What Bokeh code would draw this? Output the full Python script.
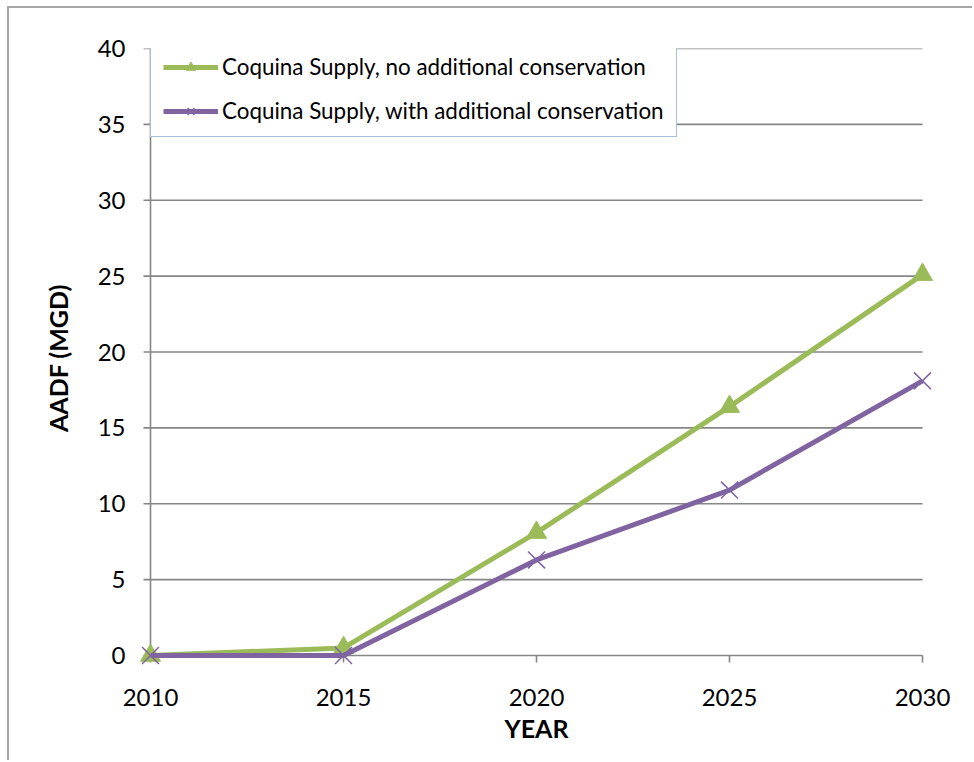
import math
from bokeh.plotting import figure
from bokeh.models import Range1d, FixedTicker
from bokeh.embed import file_html
from bokeh.resources import INLINE

years = [2010, 2015, 2020, 2025, 2030]
no_conservation = [0.0, 0.5, 8.1, 16.4, 25.1]
with_conservation = [0.0, 0.0, 6.3, 10.9, 18.1]
label_no = "Coquina Supply, no additional conservation"
label_with = "Coquina Supply, with additional conservation"
y_ticks = [0, 5, 10, 15, 20, 25, 30, 35, 40]

FONT = "Lato"
GREEN = "#9BBB59"
PURPLE = "#8064A2"
GRID = "#868686"
LW = 1.6

x0, x1 = years[0], years[-1]
y0, y1 = y_ticks[0], y_ticks[-1]
# small extra room so the end markers are not cut by the frame
dx = (x1 - x0) * 12 / 772
dy = (y1 - y0) * 12 / 607

p = figure(width=965, height=754, output_backend="svg", toolbar_location=None,
           x_range=Range1d(x0 - dx, x1 + dx), y_range=Range1d(y0 - dy, y1),
           min_border_left=129, min_border_right=40, min_border_top=40, min_border_bottom=95)
p.margin = (6, 0, 0, 7)
p.styles = {"border-left": "2px solid #A6A6A6", "border-top": "2px solid #A6A6A6"}
p.outline_line_color = None
p.background_fill_color = "white"
p.border_fill_color = "white"
p.xgrid.visible = False
p.ygrid.visible = False

n = len(y_ticks)
# horizontal gridlines (the one at 0 is the x axis line)
p.segment(x0=[x0] * n, y0=y_ticks, x1=[x1] * n, y1=y_ticks, line_color=GRID, line_width=LW)
# y axis line
p.segment(x0=[x0], y0=[y0], x1=[x0], y1=[y1], line_color=GRID, line_width=LW)
# tick marks (outside, 7 px)
p.ray(x=[x0] * n, y=y_ticks, length=7, length_units="screen", angle=math.pi,
      line_color=GRID, line_width=LW)
p.ray(x=years, y=[y0] * len(years), length=7, length_units="screen", angle=-math.pi / 2,
      line_color=GRID, line_width=LW)

for ax in (p.xaxis[0], p.yaxis[0]):
    ax.axis_line_color = None
    ax.major_tick_line_color = None
    ax.major_tick_out = 0
    ax.major_tick_in = 0
    ax.minor_tick_line_color = None
    ax.major_label_text_font = FONT
    ax.major_label_text_font_size = "24px"
    ax.major_label_text_color = "black"
    ax.axis_label_text_font = FONT
    ax.axis_label_text_font_style = "bold"
    ax.axis_label_text_font_size = "25px"
    ax.axis_label_text_color = "black"

p.xaxis.ticker = FixedTicker(ticks=years)
p.yaxis.ticker = FixedTicker(ticks=y_ticks)
p.xaxis.axis_label = "YEAR"
p.yaxis.axis_label = "AADF (MGD)"
p.xaxis.major_label_standoff = 21
p.yaxis.major_label_standoff = 13
p.xaxis.axis_label_standoff = 4
p.yaxis.axis_label_standoff = 22

p.line(years, no_conservation, line_color=GREEN, line_width=5, legend_label=label_no)
p.scatter(years, no_conservation, marker="triangle", size=20, fill_color=GREEN,
          line_color=GREEN, legend_label=label_no)
p.line(years, with_conservation, line_color=PURPLE, line_width=5, legend_label=label_with)
p.scatter(years, with_conservation, marker="x", size=24, line_color=PURPLE,
          line_width=1.5, legend_label=label_with)

lg = p.legend[0]
lg.location = (12, 530)
lg.margin = 0
lg.padding = 12
lg.spacing = 17
lg.glyph_width = 55
lg.glyph_height = 24
lg.label_standoff = 4
lg.label_text_font = FONT
lg.label_text_font_size = "22.4px"
lg.label_text_color = "black"
lg.border_line_color = "#4F81BD"
lg.border_line_width = 1.5
lg.background_fill_color = "white"
lg.background_fill_alpha = 1.0

open("out.html", "w").write(file_html(p, INLINE))
